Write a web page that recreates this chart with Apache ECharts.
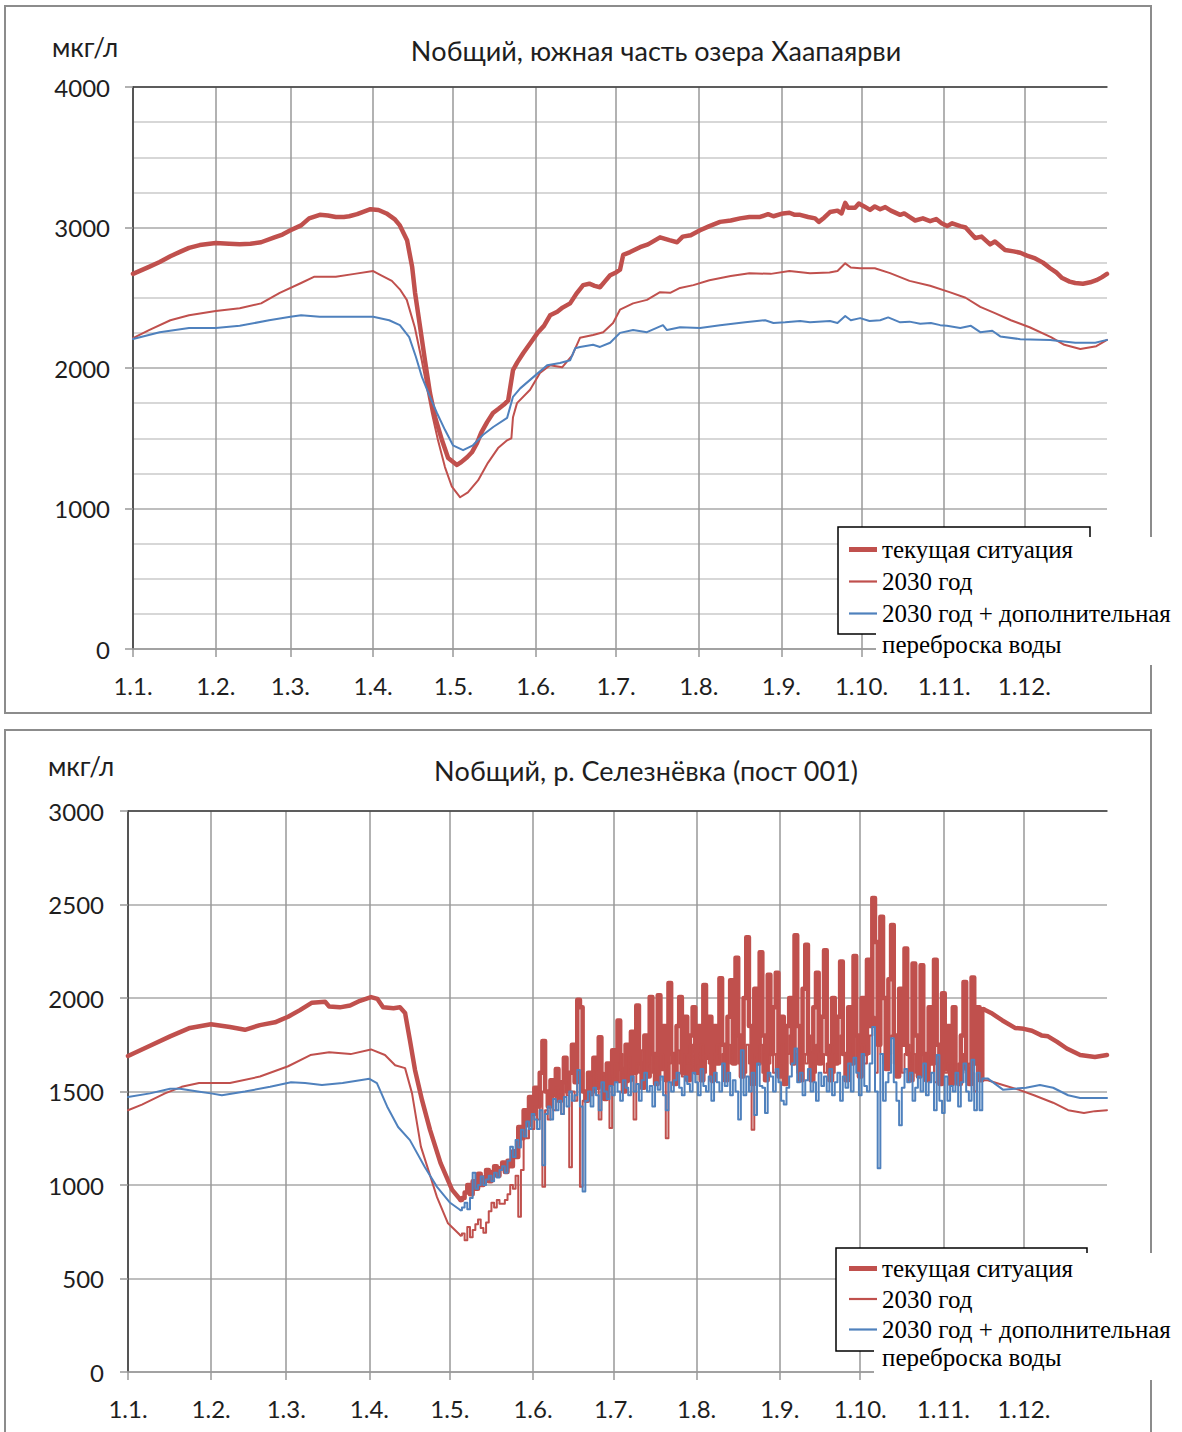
<!DOCTYPE html>
<html><head><meta charset="utf-8">
<script src="https://cdn.jsdelivr.net/npm/echarts@6/dist/echarts.min.js"></script>
<style>html,body{margin:0;padding:0;background:#fff}#c{width:1182px;height:1432px}</style>
</head><body><div id="c"></div>
<script>
// ---------- shared ----------
const monthStarts = [0,31,59,90,120,151,181,212,243,273,304,334];
const monthLabels = ['1.1.','1.2.','1.3.','1.4.','1.5.','1.6.','1.7.','1.8.','1.9.','1.10.','1.11.','1.12.'];
const seriesNames = ['текущая ситуация','2030 год','2030 год + дополнительная'];
const legendExtraLine = 'переброска воды';
const unitLabel = 'мкг/л';
const titleTop = 'Nобщий, южная часть озера Хаапаярви';
const titleBottom = 'Nобщий, р. Селезнёвка (пост 001)';

// ---------- top chart: [day of year, value] ----------
const topCurrent = [[0,2670],[6,2720],[10,2755],[14,2795],[18,2830],[21,2855],[25,2875],[31,2890],[36,2885],[40,2880],[44,2885],[48,2895],[53,2930],[56,2950],[59,2980],[63,3015],[66,3065],[70,3090],[73,3085],[76,3075],[79,3075],[81,3080],[84,3095],[86,3110],[89,3130],[92,3125],[95,3100],[98,3060],[100,3015],[102.7,2910],[104.6,2720],[105.7,2535],[107.6,2290],[109.4,2055],[111.3,1820],[113.2,1650],[115.8,1485],[118.1,1360],[121.4,1310],[123,1330],[125.2,1365],[127,1400],[128.9,1465],[130.5,1540],[132.7,1615],[134.9,1680],[137,1710],[139,1740],[140.6,1770],[142.4,1985],[144,2040],[146.2,2105],[149,2180],[151.8,2255],[154,2300],[156.3,2375],[159,2400],[161,2430],[163.8,2460],[166.4,2535],[168.7,2590],[171,2600],[173,2585],[175,2575],[177,2620],[178.8,2660],[181,2680],[182.5,2700],[183.7,2805],[186.3,2825],[190,2860],[193,2880],[197.5,2930],[201,2910],[203.9,2895],[206,2935],[209,2945],[212.5,2980],[216,3010],[220,3040],[224,3050],[227.5,3065],[231,3075],[235,3075],[238,3095],[240,3080],[243.6,3100],[246,3105],[248,3090],[250,3090],[253,3075],[255.6,3065],[257,3040],[259,3070],[261.2,3110],[264,3120],[265.5,3100],[266.9,3175],[268,3140],[270.6,3140],[272,3170],[274,3150],[276.2,3125],[278,3150],[280,3130],[281.9,3145],[284,3120],[287.5,3090],[289,3100],[291,3075],[293.1,3050],[296,3065],[298.7,3045],[301,3060],[303,3030],[305.1,3010],[307,3030],[310,3010],[312,3000],[315.6,2925],[318,2935],[321.2,2880],[323,2900],[326.8,2840],[330,2830],[332.5,2820],[335,2800],[338.1,2780],[341,2750],[343.7,2710],[346,2680],[348.2,2640],[351,2615],[353.1,2605],[356,2600],[358.7,2610],[361,2625],[363,2645],[365,2670]];
const top2030 = [[0,2213],[6,2270],[14,2340],[21,2375],[31,2405],[40,2425],[48,2460],[55,2535],[63,2605],[68,2650],[76,2650],[83,2670],[90,2690],[93,2660],[97,2620],[100,2560],[102.6,2485],[105.6,2290],[108.2,2055],[110.1,1865],[112,1680],[114.3,1485],[116.9,1295],[119.5,1155],[122.6,1080],[125.5,1115],[129.3,1200],[133,1325],[136.8,1430],[140.2,1485],[141.8,1500],[142.4,1650],[143.9,1750],[148.8,1845],[152.5,1965],[156.3,2020],[160.8,2005],[164.6,2090],[167.5,2215],[172.4,2235],[176.2,2255],[179.9,2320],[182.5,2415],[187.4,2460],[192.6,2485],[197.5,2540],[201.3,2535],[205,2570],[210,2590],[216,2625],[224,2655],[231,2675],[239,2670],[246,2690],[253.7,2675],[261,2680],[264,2690],[266.9,2745],[269,2715],[272.5,2710],[278,2710],[283.7,2675],[291,2620],[298.7,2585],[306,2540],[312,2500],[317.5,2435],[323,2390],[329,2340],[336,2290],[344,2220],[349,2165],[355,2135],[361,2155],[365,2200]];
const topTransfer = [[0,2206],[10,2255],[21,2285],[31,2285],[40,2300],[51,2340],[59,2365],[63,2375],[70,2365],[81,2365],[90,2365],[96,2340],[100,2305],[103.5,2220],[106,2080],[108.3,1935],[111.3,1795],[113.9,1680],[116.9,1560],[119.9,1450],[123.7,1415],[127.4,1450],[131.2,1525],[135,1580],[140.2,1645],[142.4,1795],[145.1,1855],[150,1935],[155.2,2020],[160,2035],[163.8,2055],[165.7,2140],[167.5,2150],[172.4,2165],[175,2150],[178.8,2180],[182.5,2250],[187.4,2270],[192.6,2255],[198.6,2305],[200.1,2270],[205,2290],[212.5,2285],[220,2305],[229.4,2325],[236.9,2340],[240,2320],[244.4,2325],[250,2335],[253.7,2325],[261.2,2335],[264,2320],[266.9,2370],[269,2340],[272.5,2355],[276,2335],[280,2340],[283,2360],[287.5,2325],[291,2330],[295,2315],[299,2320],[302.5,2305],[305,2300],[310,2285],[314,2300],[317.5,2255],[322,2265],[325,2225],[332.5,2205],[343.7,2200],[353.1,2180],[360.6,2180],[365,2200]];

// ---------- bottom chart ----------
const botCurrentHead = [[0,1690],[8.2,1745],[15.7,1795],[23.1,1840],[30.9,1860],[38,1845],[43.6,1830],[49.2,1855],[54.8,1870],[59.7,1900],[64.1,1935],[68.6,1975],[73.5,1980],[75,1955],[79,1950],[82.8,1960],[86.5,1985],[90.6,2005],[93,1995],[95.1,1950],[99,1945],[101.4,1950],[103.3,1920],[105.1,1775],[107,1615],[109.6,1455],[112.6,1295],[116.5,1118],[120.8,975]];
const botCurrentDaily = [ // day 124 .. 319, one value per day
920,930,960,1000,950,1020,980,1060,1000,1040,1080,1020,1070,1100,1050,1090,1120,1070,1130,1100,1180,1150,1310,
1250,1400,1320,1470,1380,1520,1420,1600,1770,1500,1420,1560,1480,1620,1450,1550,1680,1500,1600,1750,1550,1990,1950,1500,
1450,1600,1500,1680,1520,1790,1580,1460,1650,1540,1720,1560,1880,1620,1500,1750,1560,1820,1600,1960,1650,1520,1800,1580,2005,1700,1540,2015,1620,1850,
1560,2080,1700,1540,1850,2005,1600,1900,1560,1800,1950,1600,1850,1560,2070,1680,1900,1560,1850,1650,2105,1750,1560,1900,2095,1650,2215,1800,1580,2000,
2325,1850,1540,2050,1650,2245,1800,1560,2125,1700,1950,2135,1580,1900,1540,1850,2000,1650,2335,1850,1560,2050,2285,1700,1560,1950,2135,1650,1900,2255,
1700,1560,2000,1650,1900,2195,1700,1560,1950,1650,2225,1800,1580,2000,1700,2205,1850,2535,2300,1750,2435,2000,1620,2100,2390,1800,1580,2050,1750,2265,
1700,1560,2185,1800,1580,2175,1700,1560,1950,1650,2205,1750,1540,2025,1620,1850,1540,1950,1600,1540,1800,2085,1620,1540,2110,1650,1950,1560,1940];
const botCurrentTail = [[321.8,1920],[326,1880],[330.7,1840],[334,1835],[337,1825],[340.6,1800],[343,1795],[346.4,1765],[350,1730],[355,1695],[360.5,1685],[365,1695]];

const bot2030Head = [[0,1400],[5.2,1430],[13.8,1490],[20,1525],[26.5,1545],[38,1545],[49.2,1580],[59.7,1635],[68,1695],[75,1710],[83,1700],[90.6,1725],[95.8,1695],[99.6,1640],[103.3,1625],[105.9,1490],[109.2,1205],[115.2,935],[119.3,795]];
const bot2030Daily = [ // day 124 .. 319
730,740,705,775,720,760,790,815,770,745,800,860,905,880,920,900,900,920,950,1000,980,1050,830,1080,1295,
1250,1380,1300,1420,1350,1500,990,1400,1350,1480,1400,1520,1450,1380,1550,1480,1095,1500,1450,1600,990,1450,
1500,1580,1480,1620,1550,1350,1600,1520,1650,1305,1580,1650,1550,1700,1600,1550,1680,1600,1350,1650,1600,1720,1580,1650,1750,1600,1680,1560,1700,1620,
1250,1650,1700,1600,1720,1650,1580,1700,1650,1750,1600,1700,1650,1750,1600,1700,1650,1550,1700,1750,1650,1700,1600,1750,1650,1700,1800,1650,1700,1600,
1750,1650,1295,1700,1650,1750,1600,1700,1650,1800,1600,1700,1650,1750,1600,1700,1800,1650,1700,1600,1750,1700,1650,1800,1700,1600,1750,1650,1700,1600,
1650,1750,1600,1700,1650,1800,1700,1600,1750,1700,1650,1800,1700,1750,1650,1700,1800,1900,1600,1800,1700,1650,1750,1700,1800,1650,1700,1750,1600,1700,
1750,1650,1700,1600,1750,1700,1650,1600,1700,1650,1550,1650,1600,1700,1600,1650,1550,1700,1600,1650,1600,1700,1550,1650,1600,1500,1650,1600,1560];
const bot2030Tail = [[320.5,1560],[326.2,1535],[332,1510],[337.8,1480],[344.9,1440],[350.5,1400],[356.4,1385],[360.5,1395],[365,1400]];

const botTransferHead = [[0,1470],[8.2,1490],[15.7,1515],[19.4,1515],[26,1500],[30.9,1490],[35,1480],[43.6,1500],[53,1525],[60.8,1550],[66,1545],[72.3,1535],[80,1545],[86.5,1560],[90,1568],[92.8,1545],[96.6,1420],[100.7,1310],[105.1,1240],[110.7,1095],[115.2,990],[120.1,905]];
const botTransferDaily = [ // day 124 .. 319
865,880,905,870,930,1065,980,1000,1045,1000,1030,1050,1020,1065,1040,1080,1100,1065,1130,1205,1150,1240,1200,1295,1260,
1340,1300,1380,1350,1300,1400,1105,1380,1420,1350,1460,1400,1450,1380,1470,1420,1500,1450,1480,1615,1420,965,
1450,1500,1420,1520,1480,1400,1550,1500,1460,1530,1480,1550,1500,1450,1560,1520,1480,1580,1500,1540,1450,1560,1600,1500,1530,1420,1550,1510,1580,1480,
1400,1550,1500,1560,1600,1520,1480,1580,1540,1500,1600,1550,1480,1620,1530,1500,1580,1450,1600,1550,1500,1650,1530,1600,1480,1560,1500,1350,1720,1480,
1580,1500,1600,1375,1650,1530,1520,1385,1600,1580,1500,1620,1550,1450,1430,1520,1580,1650,1730,1550,1600,1480,1560,1620,1500,1550,1450,1600,1530,1580,
1500,1620,1480,1550,1600,1450,1580,1520,1650,1500,1680,1600,1480,1700,1530,1500,1650,1845,1500,1090,1700,1450,1550,1600,1785,1550,1450,1320,1520,1620,
1550,1600,1450,1520,1580,1500,1650,1480,1550,1600,1400,1695,1450,1385,1580,1450,1530,1500,1600,1420,1550,1650,1500,1450,1670,1400,1600,1400,1570];
const botTransferTail = [[320.5,1570],[326.2,1510],[334.8,1520],[340,1535],[344.9,1520],[350.5,1480],[355,1465],[365,1465]];
const dailyStart = 124;

// split into smooth head, step-drawn daily part and smooth tail, sharing joint points
function parts(head, daily, tail) {
  const noisy = daily.map((v, i) => [dailyStart + i, v]);
  return [head.concat([noisy[0]]), noisy, [noisy[noisy.length - 1]].concat(tail)];
}

// ---------- styling ----------
const RED = '#C0504D', BLUE = '#4F81BD';
const FONT = 'Lato, "Open Sans", sans-serif';
const SERIF = '"Liberation Serif", "Times New Roman", serif';
const TXT = '#1e1e1e';
const GRID_V = '#999999', GRID_H = '#a8a8a8', GRID_MINOR = '#cacaca', BORDER = '#3c3c3c';

const grids = [
  {left:133, top:87, width:974, height:562},
  {left:128, top:811, width:979, height:561}
];
const yMax = [4000, 3000], yInt = [1000, 500];

const xAxes = [], yAxes = [];
[0,1].forEach(g => {
  xAxes.push({gridIndex:g, type:'value', min:0, max:365, position:'bottom',
    axisLine:{show:true, onZero:false, lineStyle:{color:GRID_V, width:1.5}},
    axisTick:{show:true, length:8, customValues:monthStarts, lineStyle:{color:GRID_V, width:1.5}},
    axisLabel:{customValues:monthStarts, margin:24, fontFamily:FONT, fontSize:24, color:TXT,
      formatter: v => monthLabels[monthStarts.indexOf(Math.round(v))] || ''},
    splitLine:{show:true, lineStyle:{color:GRID_V, width:1.5}}
  });
  xAxes.push({gridIndex:g, type:'value', min:0, max:365, position:'top',
    axisLine:{show:true, onZero:false, lineStyle:{color:BORDER, width:1.5}},
    axisTick:{show:false}, axisLabel:{show:false}, splitLine:{show:false}});
  yAxes.push({gridIndex:g, type:'value', min:0, max:yMax[g], interval:yInt[g], position:'left',
    axisLine:{show:true, lineStyle:{color:GRID_V, width:1.5}},
    axisTick:{show:true, length:8, lineStyle:{color:GRID_V, width:1.5}},
    axisLabel:{margin: g === 0 ? 23 : 24, fontFamily:FONT, fontSize:24, color:TXT, formatter: v => String(v)},
    splitLine:{show:true, lineStyle:{color:GRID_H, width:1.5}},
    minorTick:{show:false, splitNumber:4},
    minorSplitLine:{show: g === 0, lineStyle:{color:GRID_MINOR, width:1.5}}
  });
  yAxes.push({gridIndex:g, type:'value', min:0, max:yMax[g], position:'right',
    axisLine:{show:true, lineStyle:{color:BORDER, width:1.5}},
    axisTick:{show:false}, axisLabel:{show:false}, splitLine:{show:false}});
});

function line(g, name, data, width, color, z, step) {
  return {type:'line', name, xAxisIndex:g*2, yAxisIndex:g*2, data, symbol:'none', showSymbol:false,
    smooth:false, step: step || false, animation:false, z,
    lineStyle:{width, color, join:'round', cap:'round'}, itemStyle:{color}};
}
const botSets = [
  [parts(botCurrentHead, botCurrentDaily, botCurrentTail), 4.5, RED, 2],
  [parts(bot2030Head, bot2030Daily, bot2030Tail), 2, RED, 3],
  [parts(botTransferHead, botTransferDaily, botTransferTail), 2, BLUE, 4]
];
const series = [
  line(0, seriesNames[0], topCurrent, 4.5, RED, 2),
  line(0, seriesNames[1], top2030, 2, RED, 3),
  line(0, seriesNames[2], topTransfer, 2, BLUE, 4)
];
botSets.forEach((s, k) => {
  const [p, w, c, z] = s;
  series.push(line(1, seriesNames[k], p[0], w, c, z));
  series.push(line(1, seriesNames[k], p[1], w, c, z, 'middle'));
  series.push(line(1, seriesNames[k], p[2], w, c, z));
});

function legendAt(top, gap) {
  return {left:849, top, orient:'vertical', padding:0, itemGap:gap, itemWidth:28, itemHeight:10,
    symbolKeepAspect:true, selectedMode:false, z:20,
    itemStyle:{borderWidth:0},
    textStyle:{fontFamily:SERIF, fontSize:25, color:'#000', lineHeight:25},
    data:[
      {name:seriesNames[0], icon:'path://M0,0H28V5H0Z'},
      {name:seriesNames[1], icon:'path://M0,0H28V2.2H0Z'},
      {name:seriesNames[2], icon:'path://M0,0H28V2.2H0Z'}
    ]};
}

function txt(x, y, text, size, family, align, color) {
  return {type:'text', x, y, z:21, silent:true,
    style:{text, fontSize:size, fontFamily:family, fill:color || TXT, align, verticalAlign:'middle'}};
}
const graphic = [
  {type:'rect', z:1, silent:true, shape:{x:5, y:6, width:1146, height:707}, style:{fill:'none', stroke:'#8c8c8c', lineWidth:2}},
  {type:'rect', z:1, silent:true, shape:{x:5, y:730, width:1146, height:740}, style:{fill:'none', stroke:'#8c8c8c', lineWidth:2}},
  txt(52, 47, unitLabel, 26, FONT, 'left'),
  txt(48, 766, unitLabel, 26, FONT, 'left'),
  txt(656, 50, titleTop, 27, FONT, 'center'),
  txt(646, 770, titleBottom, 27, FONT, 'center'),
  // legend frames + white overlays
  {type:'rect', z:8, silent:true, shape:{x:838, y:527, width:252, height:107}, style:{fill:'#fff', stroke:'#000', lineWidth:1.5}},
  {type:'rect', z:9, silent:true, shape:{x:876, y:537, width:306, height:128}, style:{fill:'#fff'}},
  {type:'rect', z:8, silent:true, shape:{x:836, y:1248, width:251, height:103}, style:{fill:'#fff', stroke:'#000', lineWidth:1.5}},
  {type:'rect', z:9, silent:true, shape:{x:874, y:1253, width:308, height:127}, style:{fill:'#fff'}},
  txt(882, 644, legendExtraLine, 25, SERIF, 'left', '#000'),
  txt(882, 1357, legendExtraLine, 25, SERIF, 'left', '#000')
];

const chart = echarts.init(document.getElementById('c'), null, {renderer:'svg'});
chart.setOption({
  animation:false,
  backgroundColor:'#fff',
  grid: grids,
  xAxis: xAxes,
  yAxis: yAxes,
  legend: [legendAt(537, 7), legendAt(1256, 5.5)],
  graphic,
  series
});
</script></body></html>
